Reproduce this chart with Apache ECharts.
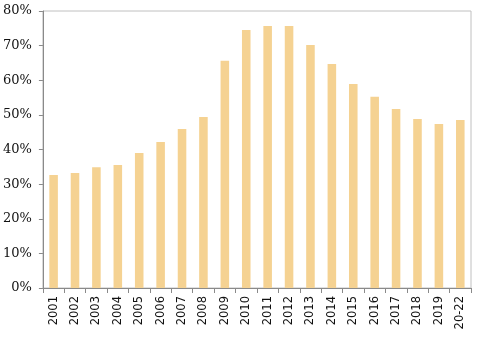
<!DOCTYPE html>
<html>
<head>
<meta charset="utf-8">
<script src="https://cdn.jsdelivr.net/npm/echarts@6/dist/echarts.min.js"></script>
<style>
  html, body { margin: 0; padding: 0; background: #fff; }
  #chart { width: 479px; height: 337px; }
</style>
</head>
<body>
<div id="chart"></div>
<script>
// Share by year, in percent
const years = ['2001', '2002', '2003', '2004', '2005', '2006', '2007', '2008', '2009', '2010',
               '2011', '2012', '2013', '2014', '2015', '2016', '2017', '2018', '2019', '20-22'];
const shares = [32.6, 33.2, 34.9, 35.5, 39.0, 42.2, 45.9, 49.4, 65.6, 74.5,
                75.7, 75.7, 70.2, 64.7, 58.9, 55.2, 51.7, 48.8, 47.4, 48.5];
const yTicks = [0, 10, 20, 30, 40, 50, 60, 70, 80];

const chart = echarts.init(document.getElementById('chart'), null, { renderer: 'canvas' });
chart.setOption({
  animation: false,
  grid: {
    left: 42, right: 8, top: 11, bottom: 49,
    show: true, borderColor: '#c0c0c0', borderWidth: 1, backgroundColor: 'transparent'
  },
  xAxis: {
    type: 'category',
    data: years,
    boundaryGap: true,
    axisLine: { lineStyle: { color: '#8a8a8a', width: 1 } },
    axisTick: { show: true, alignWithLabel: false, length: 5, lineStyle: { color: '#8a8a8a' } },
    axisLabel: {
      rotate: 90, interval: 0, margin: 8,
      fontFamily: 'DejaVu Sans', fontSize: 11.5, color: '#111'
    }
  },
  yAxis: {
    type: 'value',
    min: yTicks[0], max: yTicks[yTicks.length - 1], interval: 10,
    splitLine: { show: false },
    axisLine: { show: true, lineStyle: { color: '#8a8a8a', width: 1 } },
    axisTick: { show: true, length: 4, lineStyle: { color: '#8a8a8a' } },
    axisLabel: {
      margin: 11, fontFamily: 'DejaVu Serif', fontSize: 13, color: '#111',
      formatter: v => v + '%'
    }
  },
  series: [{
    type: 'bar',
    data: shares,
    barWidth: '40%',
    itemStyle: { color: '#f5d292' }
  }]
});
</script>
</body>
</html>
